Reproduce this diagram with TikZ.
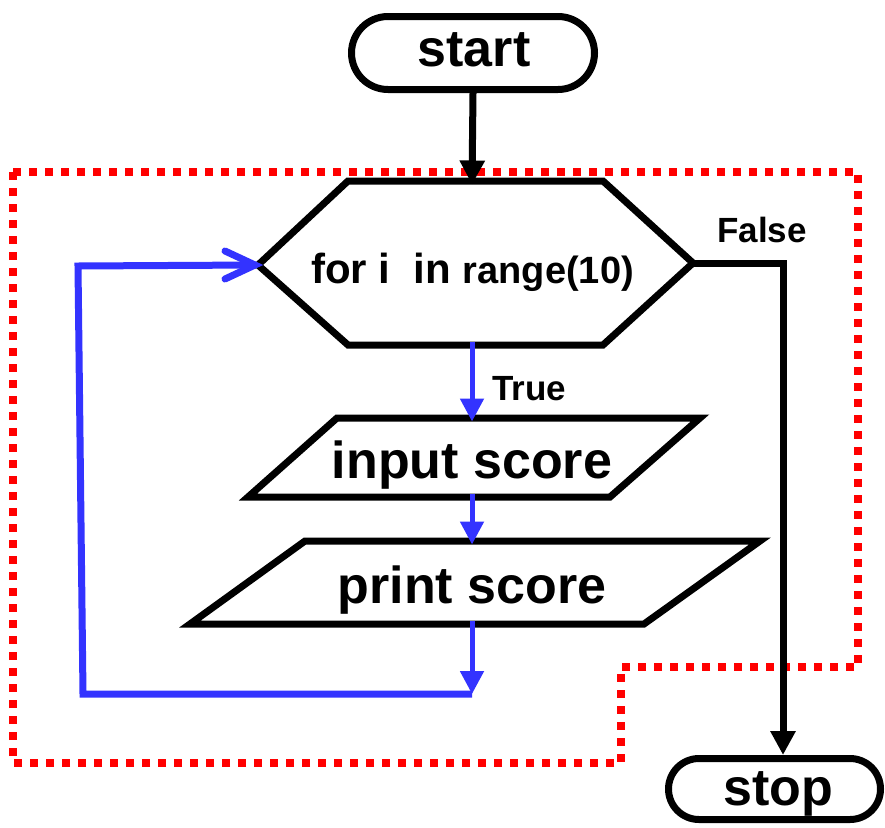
\documentclass[tikz,border=0pt]{standalone}
\usepackage{fontspec}
\setmainfont{Liberation Sans}
\usetikzlibrary{shapes.misc,arrows.meta}
\definecolor{lblue}{HTML}{3333FF}
\definecolor{dred}{HTML}{FF0000}
\begin{document}
\begin{tikzpicture}[x=1pt,y=-1pt,
  term/.style={rounded rectangle,draw,line width=7pt,inner sep=0pt,fill=white},
  boxline/.style={draw,line width=7pt,line join=miter,fill=white},
  bigtxt/.style={font=\bfseries\fontsize{52}{60}\selectfont,anchor=base,inner sep=0pt},
  lbl/.style={font=\bfseries\fontsize{35}{40}\selectfont,anchor=base west,inner sep=0pt},
  blk/.style={draw,line width=7pt,-{Triangle[length=24pt,width=24pt]}},
  bluarrow/.style={draw=lblue,line width=5pt,-{Triangle[length=23pt,width=23pt]}},
  loopline/.style={draw=lblue,line width=7pt},
  fence/.style={draw=dred,line width=8pt,dash pattern=on 8pt off 8pt},
]
\useasboundingbox (0,0) rectangle (885,827);

% red dotted region
\draw[fence] (13,172) -- (858,172) -- (858,667) -- (621,667) -- (621,763) -- (13,763) -- cycle;

% terminals
\node[term,minimum width=243pt,minimum height=73pt] (start) at (473,53) {};
\node[bigtxt] (starttxt) at (474,66) {start};
\node[term,minimum width=212pt,minimum height=61pt] (stop) at (774.5,789) {};
\node[bigtxt] (stoptxt) at (778,805) {stop};

% hexagon (loop)
\coordinate (hL) at (258,265);
\coordinate (hR) at (693,263);
\coordinate (hT) at (472,181);
\coordinate (hB) at (472,345);
\draw[boxline] (hL) -- (348,181) -- (603,181) -- (hR) -- (603,345) -- (348,345) -- cycle;
\node[inner sep=0pt,anchor=base west] (fortxt) at (311,283)
  {\bfseries\fontsize{42}{48}\selectfont for i\ \ in \fontsize{38}{44}\selectfont range(10)};

% input parallelogram
\coordinate (inT) at (472,418);
\coordinate (inB) at (472,497);
\draw[boxline] (337,418) -- (700,418) -- (610,497) -- (248,497) -- cycle;
\node[bigtxt] (intxt) at (472,478) {input score};

% print parallelogram
\coordinate (prT) at (472,541);
\coordinate (prB) at (472,624);
\draw[boxline] (305,541) -- (760,541) -- (644,624) -- (190,624) -- cycle;
\node[bigtxt] (prtxt) at (472,603) {print score};

% connectors
\draw[blk] (start.south) -- ([yshift=-3.5pt]hT);
\coordinate (fc) at (783,263);
\draw[blk] (hR) -- (fc) -- (fc |- stop.north);
\node[lbl] (falsetxt) at (717,242) {False};

\draw[bluarrow] ([yshift=3.5pt]hB) -- ([yshift=-3.5pt]inT);
\node[lbl] (truetxt) at (492,400) {True};
\draw[bluarrow] ([yshift=3.5pt]inB) -- ([yshift=-3.5pt]prT);

\coordinate (lc) at (472,694);
\coordinate (bl) at (83,694);
\coordinate (tl) at (78,266);
\draw[bluarrow] ([yshift=3.5pt]prB) -- (lc);
\draw[loopline] (lc) -- (bl) -- (tl) -- ([xshift=-2pt]hL);
\draw[draw=lblue,line width=7pt,line cap=round] ([xshift=-3pt]hL) ++(-30,-14) -- ([xshift=-3pt]hL) -- ++(-30,14);
\end{tikzpicture}
\end{document}
